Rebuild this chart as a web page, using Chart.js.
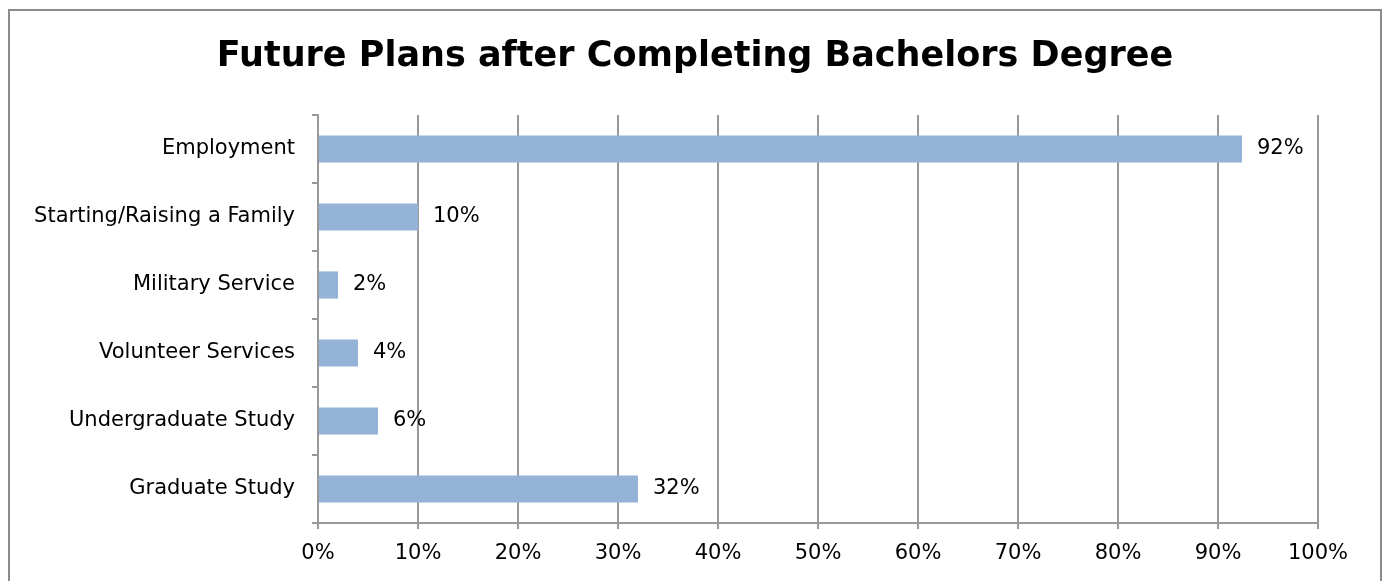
<!DOCTYPE html>
<html>
<head>
<meta charset="utf-8">
<script src="https://cdn.jsdelivr.net/npm/chart.js@4.4.0/dist/chart.umd.min.js"></script>
<style>
  body { margin: 0; background: #fff; overflow: hidden; }
  #frame { position: absolute; left: 8px; top: 9px; width: 1370px; height: 620px; border: 2px solid #8c8c8c; }
  #chart { display: block; }
</style>
</head>
<body>
<div id="frame"><canvas id="chart" width="1370" height="570"></canvas></div>
<script>
const categories = ["Employment", "Starting/Raising a Family", "Military Service", "Volunteer Services", "Undergraduate Study", "Graduate Study"];
const percents = [92.4, 10, 2, 4, 6, 32];
const tickValues = [0, 10, 20, 30, 40, 50, 60, 70, 80, 90, 100];

const fontFamily = "'DejaVu Sans', sans-serif";

// labels at the end of every bar
const barLabels = {
  id: "barLabels",
  afterDatasetsDraw(chart) {
    const ctx = chart.ctx;
    const meta = chart.getDatasetMeta(0);
    ctx.save();
    ctx.font = `21px ${fontFamily}`;
    ctx.fillStyle = "#000";
    ctx.textBaseline = "middle";
    ctx.textAlign = "left";
    meta.data.forEach((bar, i) => {
      ctx.fillText(Math.round(percents[i]) + "%", bar.x + 15, bar.y);
    });
    ctx.restore();
  },
};

new Chart(document.querySelector("#chart"), {
  type: "bar",
  data: {
    labels: categories,
    datasets: [{ data: percents, backgroundColor: "#95b3d7", barPercentage: 0.4, categoryPercentage: 1 }],
  },
  options: {
    indexAxis: "y",
    responsive: false,
    animation: false,
    layout: { padding: 0 },
    plugins: {
      legend: { display: false },
      tooltip: { enabled: false },
      title: {
        display: true,
        text: "Future Plans after Completing Bachelors Degree",
        color: "#000",
        font: { family: fontFamily, size: 35, weight: "bold" },
        padding: { top: 25, bottom: 37 },
      },
    },
    scales: {
      x: {
        min: 0,
        max: 100,
        afterBuildTicks: (axis) => { axis.ticks = tickValues.map((v) => ({ value: v })); },
        afterFit: (axis) => { axis.height = 58; },
        grid: { color: "#999", lineWidth: 2, tickLength: 6 },
        border: { color: "#999", width: 2 },
        ticks: {
          color: "#000",
          padding: 12,
          font: { family: fontFamily, size: 21 },
          callback: (v) => v + "%",
        },
      },
      y: {
        afterFit: (axis) => { axis.width = 308; },
        grid: { drawOnChartArea: false, color: "#999", lineWidth: 2, tickLength: 6, offset: true },
        border: { color: "#999", width: 2 },
        ticks: { color: "#000", padding: 17, font: { family: fontFamily, size: 21 } },
      },
      // empty right-hand axis that only reserves space so the title stays centred
      yRight: {
        type: "category",
        position: "right",
        labels: categories,
        afterFit: (axis) => { axis.width = 62; },
        grid: { display: false },
        border: { display: false },
        ticks: { display: false },
      },
    },
  },
  plugins: [barLabels],
});
</script>
</body>
</html>
